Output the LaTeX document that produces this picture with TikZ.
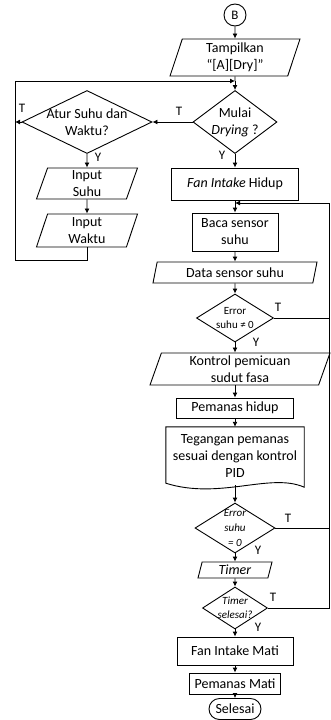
\documentclass[tikz,border=0pt]{standalone}
\usepackage{fontspec}
\setmainfont{Carlito}
\usepackage{tikz}
\usetikzlibrary{shapes.geometric, arrows.meta}

\begin{document}
\begin{tikzpicture}[
                x=1pt, y=-1pt, % one unit per pixel, y going down
                every node/.style={font=\fontsize{14}{17}\selectfont, align=center, inner sep=1pt}, % Text for all nodes
                box/.style={rectangle, draw, line width=0.9pt}, % Process
                io/.style={trapezium, trapezium left angle=67, trapezium right angle=113, trapezium stretches body, inner ysep=0pt, draw, line width=0.9pt}, % Input / output
                decision/.style={diamond, draw, line width=0.9pt, inner sep=0pt}, % Decision
                smalltxt/.style={font=\fontsize{11}{14}\selectfont}, % Text inside decisions
                lbl/.style={font=\fontsize{13}{15}\selectfont}, % T / Y labels
                line/.style={draw, line width=0.9pt}, % Plain connector
                arrow/.style={line, -{Latex[length=5pt, width=5pt]}} % Connector with tip
                ]
                \useasboundingbox (0,0) rectangle (330,720);

                % left branch and loop points
                \coordinate (join1) at (235,81);
                \coordinate (loopl) at (15,260);
                \coordinate (join2) at (235,203);
                \coordinate (loopr) at (329,203);

                \node[circle, draw, line width=0.9pt, minimum size=22, inner sep=0pt, font=\fontsize{13}{15}\selectfont] (b) at (235,15) {B};
                \node[io, minimum width=130, minimum height=37] (tamp) at (235,57.5) {Tampilkan\\“[A][Dry]”};
                \node[decision, minimum width=84, minimum height=63] (mulai) at (235,122) {};
                \node (mulaitxt) at (mulai) {Mulai\\\textit{Drying} ?};
                \node[decision, minimum width=130, minimum height=63] (atur) at (87,122) {};
                \node (aturtxt) at (atur) {Atur Suhu dan\\Waktu?};
                \node[io, minimum width=101, minimum height=31] (suhu) at (87,183.5) {Input\\Suhu};
                \node[io, minimum width=101, minimum height=33] (waktu) at (87,230.5) {Input\\Waktu};

                % main column
                \node[box, minimum width=127, minimum height=32] (fan) at (235,184) {\textit{Fan Intake} Hidup};
                \node[box, minimum width=86, minimum height=38] (baca) at (235,232) {Baca sensor\\suhu};
                \node[io, minimum width=164, minimum height=21] (data) at (235,272.5) {Data sensor suhu};
                \node[decision, minimum width=77, minimum height=48] (err1) at (235,318) {};
                \node[smalltxt] (err1txt) at (err1) {Error\\suhu ≠ 0};
                \node[io, minimum width=180, minimum height=32] (kontrol) at (240,369) {Kontrol pemicuan\\sudut fasa};
                \node[box, minimum width=117, minimum height=20] (hidup) at (235,408) {Pemanas hidup};
                \node[minimum width=138, minimum height=58, inner sep=0pt] (teg) at (235,456) {Tegangan pemanas\\sesuai dengan kontrol\\PID};
                \draw[line] (teg.north west) -- (teg.north east) -- ([yshift=-2pt]teg.south east)
                    .. controls +(-34,-15) and +(54,17) .. ([yshift=2pt]teg.south west) -- cycle;
                \node[decision, minimum width=80, minimum height=50] (err2) at (235,528) {};
                \node[font=\fontsize{11}{15}\selectfont\itshape] (err2txt) at (err2) {Error\\suhu\\= 0};
                \node[io, minimum width=74, minimum height=16] (timer) at (235,570) {\textit{Timer}};
                \node[decision, minimum width=65, minimum height=42] (sel) at (235,608) {};
                \node[font=\fontsize{11}{14}\selectfont\itshape] (seltxt) at (sel) {Timer\\selesai?};
                \node[box, minimum width=116, minimum height=28] (fanmati) at (235,651) {Fan Intake Mati};
                \node[box, minimum width=91, minimum height=21] (pmati) at (235,683.5) {Pemanas Mati};
                \node[box, rounded corners=10.5pt, minimum width=52, minimum height=21] (selesai) at (235,709) {Selesai};

                % branch labels
                \node[lbl] (t1) at (179,111) {T};
                \node[lbl] (t2) at (22,108) {T};
                \node[lbl] (y1) at (98,157) {Y};
                \node[lbl] (y2) at (222,155) {Y};
                \node[lbl] (t3) at (278,307) {T};
                \node[lbl] (y3) at (256,342) {Y};
                \node[lbl] (t4) at (288,518) {T};
                \node[lbl] (y4) at (258,550) {Y};
                \node[lbl] (t5) at (273,597) {T};
                \node[lbl] (y5) at (258,627) {Y};

                % connectors
                \draw[arrow] (b) -- (tamp);
                \draw[line] (tamp.south) -- (join1);
                \draw[arrow] (join1) -- (mulai.north);
                \draw[arrow] (mulai.west) -- (atur.east);
                \draw[arrow] (atur.west) -- (atur.west -| loopl);
                \draw[arrow] (atur.south) -- (suhu.north);
                \draw[arrow] (suhu.south) -- (waktu.north);
                \draw[arrow] (waktu.south) |- (loopl) |- (join1);
                \draw[arrow] (mulai.south) -- (fan.north);
                \draw[line] (fan.south) -- (join2);
                \draw[arrow] (join2) -- (baca.north);
                \draw[arrow] (baca) -- (data);
                \draw[arrow] (data) -- (err1);
                \draw[arrow] (err1.south) -- (err1.south |- kontrol.north);
                \draw[arrow] (kontrol.south -| hidup.north) -- (hidup.north);
                \draw[arrow] (hidup) -- (teg);
                \draw[arrow] (teg.south) -- (err2.north);
                \draw[arrow] (err2) -- (timer);
                \draw[arrow] (timer) -- (sel);
                \draw[arrow] (sel) -- (fanmati);
                \draw[arrow] (fanmati) -- (pmati);
                \draw[arrow] (pmati) -- (selesai);
                \draw[line] (err1.east) -- (err1.east -| loopr);
                \draw[line] (err2.east) -- (err2.east -| loopr);
                \draw[arrow] (sel.east) -| (loopr) -- (join2);
            \end{tikzpicture}
\end{document}
